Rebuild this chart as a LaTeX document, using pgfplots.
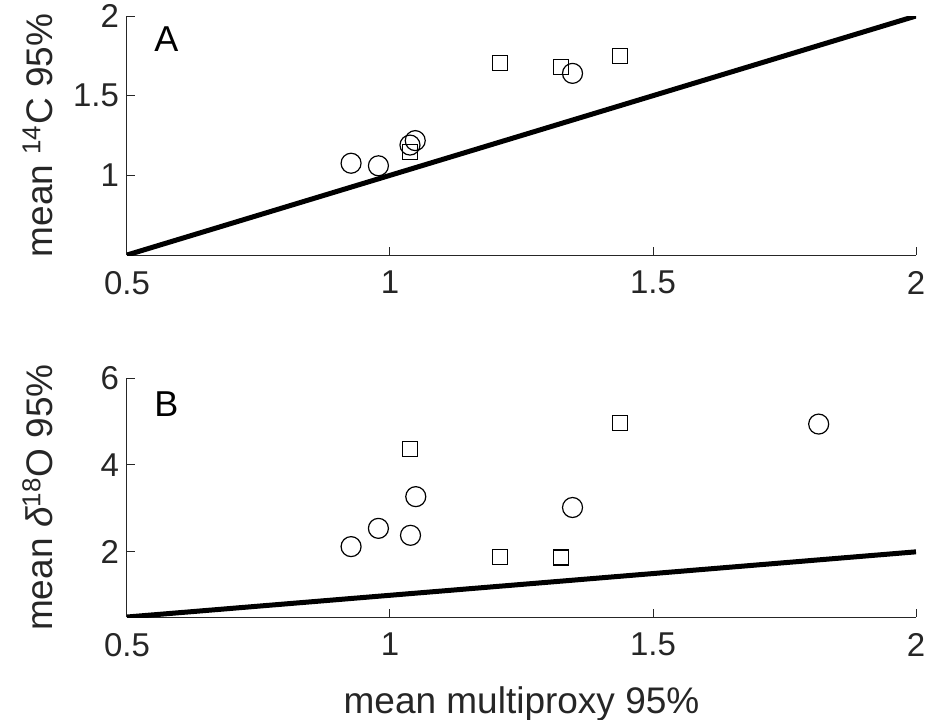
\documentclass[border=0pt]{standalone}
\usepackage{fontspec}
\setmainfont{Liberation Sans}
\usepackage{pgfplots}
\usepackage{pgfplotstable}
\pgfplotsset{compat=1.18}
\definecolor{axgray}{HTML}{262626}

\pgfplotstableread{
x y
0.926 1.076
0.978 1.060
1.038 1.190
1.048 1.218
1.347 1.640
}\circA
\pgfplotstableread{
x y
1.038 1.148
1.2085 1.703
1.325 1.682
1.437 1.749
}\sqA
\pgfplotstableread{
x y
0.926 2.12
0.978 2.54
1.039 2.38
1.049 3.27
1.347 3.02
1.815 4.94
}\circB
\pgfplotstableread{
x y
1.038 4.36
1.2085 1.89
1.325 1.87
1.437 4.96
}\sqB

\pgfplotsset{
 myax/.style={
  scale only axis, width=394.5pt, height=119.5pt,
  xmin=0.5, xmax=2,
  axis x line=bottom, axis y line=left,
  axis line style={-, axgray, line width=0.5pt},
  tick align=inside, major tick length=4pt,
  tick style={axgray, line width=0.5pt},
  xtick={0.5,1,1.5,2},
  ticklabel style={font=\fontsize{16.5}{19}\selectfont, text=axgray},
  xticklabel style={yshift=-4.5pt},
  yticklabel style={xshift=-0.5pt},
  /pgf/number format/assume math mode=true,
  every axis x label/.style={at={(axis description cs:0.5,-0.405)}, anchor=base, font=\fontsize{18.5}{21}\selectfont, text=axgray},
  every axis y label/.style={at={(axis description cs:-0.0938,0.5)}, anchor=base, rotate=90, font=\fontsize{18.5}{21}\selectfont, text=axgray},
  clip=true,
 },
 circ/.style={only marks, mark=o, mark size=5pt, mark options={line width=0.6pt, black}},
 sq/.style={only marks, mark=square, mark size=3.75pt, mark options={line width=0.6pt, black}},
}

\begin{document}
\begin{tikzpicture}
\begin{axis}[myax, at={(0,0)}, anchor=north west,
  ymin=0.5, ymax=2, ytick={1,1.5,2},
  ylabel={mean \textsuperscript{14}C 95\%}]
\addplot[black, line width=2.5pt] coordinates {(0.5,0.5) (2,2)};
\addplot[circ] table {\circA};
\addplot[sq] table {\sqA};
\node[font=\fontsize{18}{21}\selectfont, text=black] at (rel axis cs:0.05,0.905) {A};
\end{axis}
\begin{axis}[myax, at={(0,-181pt)}, anchor=north west,
  ymin=0.5, ymax=6, ytick={2,4,6},
  xlabel={mean multiproxy 95\%},
  ylabel={mean \textit{δ}\textsuperscript{18}O 95\%}]
\addplot[black, line width=2.5pt] coordinates {(0.5,0.5) (2,2)};
\addplot[circ] table {\circB};
\addplot[sq] table {\sqB};
\node[font=\fontsize{18}{21}\selectfont, text=black] at (rel axis cs:0.05,0.89) {B};
\end{axis}
\pgfresetboundingbox
\path[use as bounding box] (-63.5pt,8pt) rectangle (400pt,-351.5pt);
\end{tikzpicture}
\end{document}
